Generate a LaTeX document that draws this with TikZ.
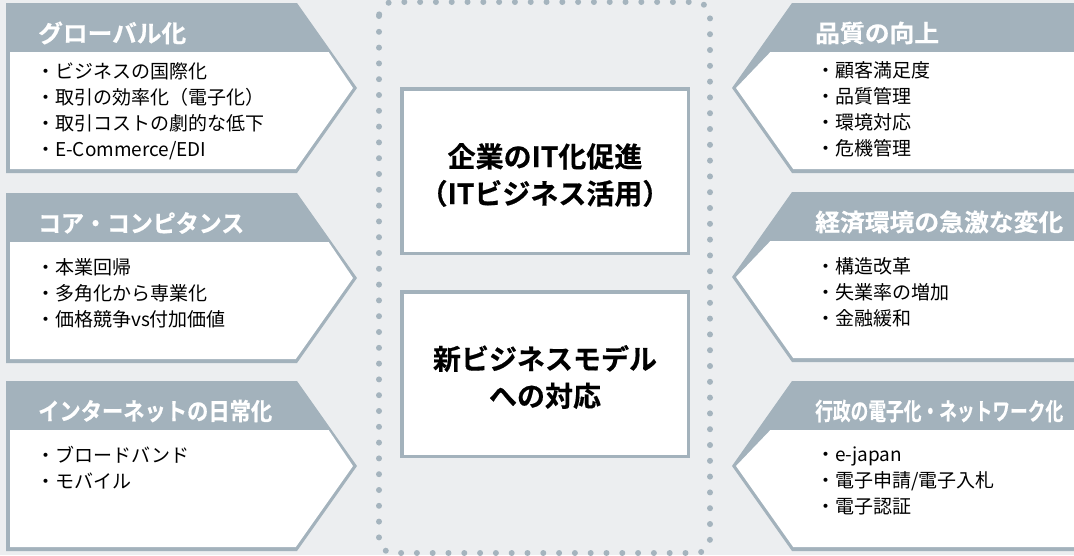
\documentclass[tikz,border=0pt]{standalone}
\usepackage{fontspec}
\setmainfont{Noto Sans CJK JP}
\newfontfamily\heavyjp{Noto Sans CJK JP Bold}[FakeBold=0.5]
\definecolor{bg}{RGB}{236,238,240}
\definecolor{hd}{RGB}{163,178,188}
\definecolor{dotc}{RGB}{165,180,190}
\newcommand\mylbox[1]{%
  \fill[hd] (6,#1) -- (297,#1) -- (357,#1+85) -- (297,#1+170) -- (6,#1+170) -- cycle;
  \fill[white] (10,#1+49) -- (328.6,#1+49) -- (353,#1+85) -- (295.8,#1+166) -- (10,#1+166) -- cycle;}
\newcommand\myrbox[1]{%
  \fill[hd] (1074,#1) -- (792,#1) -- (732,#1+85) -- (792,#1+170) -- (1074,#1+170) -- cycle;
  \fill[white] (1074,#1+49) -- (770.4,#1+49) -- (736,#1+85) -- (793.2,#1+166) -- (1074,#1+166) -- cycle;}
\newcommand\hdw[2]{\resizebox{#1pt}{\height}{#2}}
\begin{document}
\begin{tikzpicture}[x=1pt,y=-1pt,
  hdtext/.style={text=white,font=\fontsize{24}{24}\selectfont\heavyjp,inner sep=0,anchor=west},
  bodytext/.style={font=\fontsize{19}{26}\selectfont,align=left,inner sep=0,anchor=north west},
  centertext/.style={font=\fontsize{28}{37}\selectfont\heavyjp,align=center,inner sep=0},
  centerbox/.style={draw=hd,line width=3.5pt,fill=white,minimum width=286.5pt,minimum height=164.5pt,inner sep=0}]
\fill[bg] (0,0) rectangle (1074,555);
\useasboundingbox (0,0) rectangle (1074,555);
% dotted frame
\draw[dotc,line width=6pt,line cap=round,dash pattern=on 0pt off 15.8pt,rounded corners=14pt] (379,2) rectangle (710,553);
% left boxes
\mylbox{3}\mylbox{193}\mylbox{381}
% right boxes
\myrbox{3}\myrbox{192}\myrbox{381}
% left texts
\node[hdtext] (hl1) at (38,33) {\hdw{148}{グローバル化}};
\node[hdtext] (hl2) at (38,223) {\hdw{206}{コア・コンピタンス}};
\node[hdtext] (hl3) at (38,411) {\hdw{234}{インターネットの日常化}};
\node[bodytext] (bl1) at (36,62) {\vphantom{国}・ビジネスの国際化\\・取引の効率化（電子化）\\・取引コストの劇的な低下\\・E-Commerce/EDI};
\node[bodytext] (bl2) at (36,258) {\vphantom{国}・本業回帰\\・多角化から専業化\\・価格競争vs付加価値};
\node[bodytext] (bl3) at (36,446) {\vphantom{国}・ブロードバンド\\・モバイル};
% right texts
\node[hdtext] (hr1) at (815,33) {\hdw{124}{品質の向上}};
\node[hdtext] (hr2) at (815,222) {\hdw{248}{経済環境の急激な変化}};
\node[hdtext] (hr3) at (815,411) {\hdw{248}{行政の電子化・ネットワーク化}};
\node[bodytext] (br1) at (816,61) {\vphantom{国}・顧客満足度\\・品質管理\\・環境対応\\・危機管理};
\node[bodytext] (br2) at (816,257) {\vphantom{国}・構造改革\\・失業率の増加\\・金融緩和};
\node[bodytext] (br3) at (816,446) {\vphantom{国}・e-japan\\・電子申請/電子入札\\・電子認証};
% center boxes
\node[centerbox] (c1) at (545,171) {};
\node[centertext] (t1) at (545,175) {企業のIT化促進\\（ITビジネス活用）};
\node[centerbox] (c2) at (545,374) {};
\node[centertext] (t2) at (545,377) {新ビジネスモデル\\への対応};
\end{tikzpicture}
\end{document}
